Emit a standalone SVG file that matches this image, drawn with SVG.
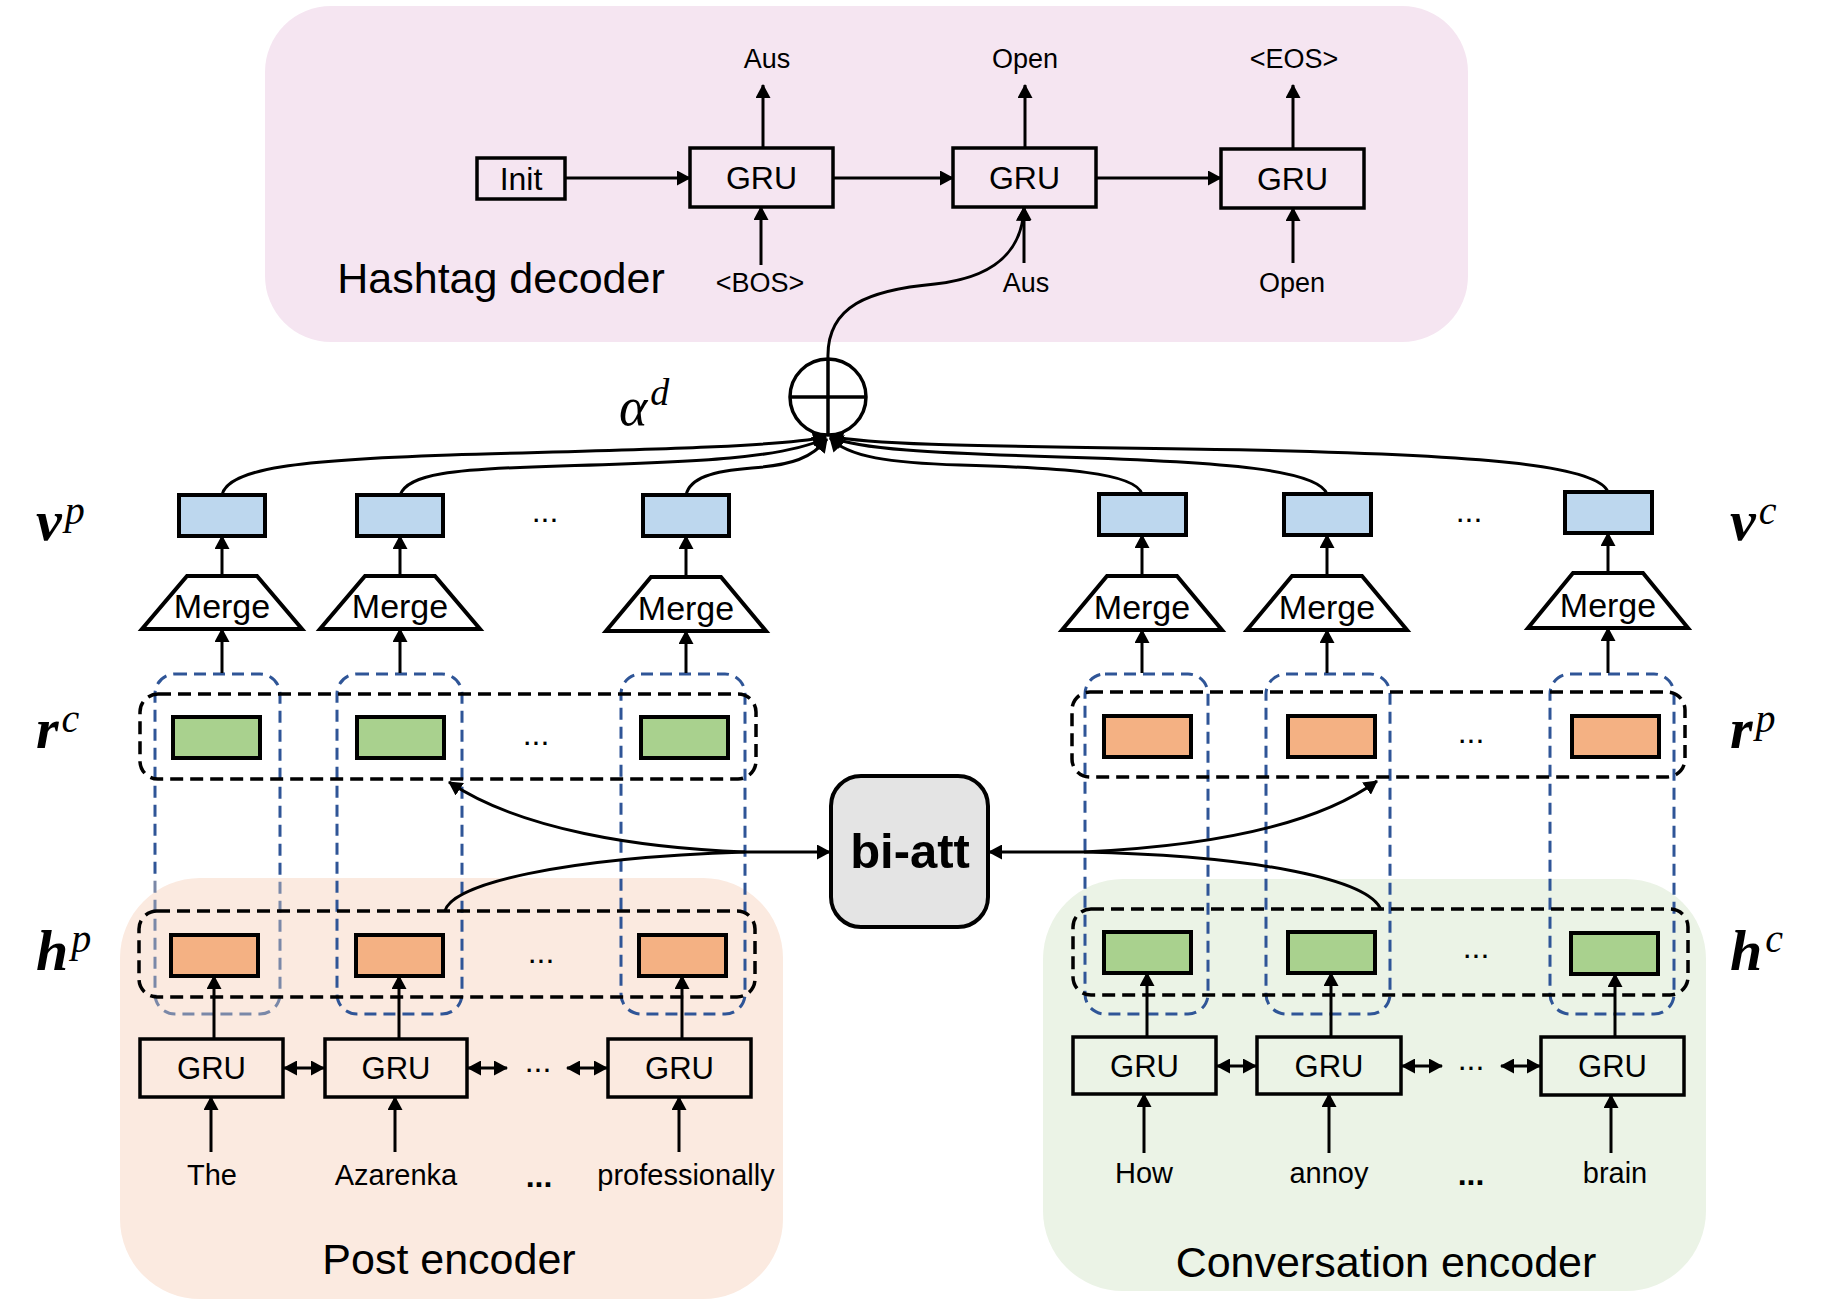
<svg xmlns="http://www.w3.org/2000/svg" width="1822" height="1314" viewBox="0 0 1822 1314">
<style>
.t{font-family:"Liberation Sans",Arial,sans-serif;fill:#000;text-anchor:middle}
.box{fill:none;stroke:#000;stroke-width:3.5}
.vb{fill:#BDD7EE;stroke:#000;stroke-width:4}
.gb{fill:#A9D18E;stroke:#000;stroke-width:4}
.ob{fill:#F4B183;stroke:#000;stroke-width:4}
.mg{fill:#fff;stroke:#000;stroke-width:4;stroke-linejoin:miter}
.blk{fill:none;stroke:#000;stroke-width:3.5;stroke-dasharray:13 7}
.blu{fill:none;stroke:#2F5597;stroke-width:3;stroke-dasharray:12 7}
.ln{fill:none;stroke:#000;stroke-width:3}
.ar{marker-end:url(#ah)}
.bi{marker-start:url(#ah);marker-end:url(#ah)}
.math{font-family:"Liberation Serif","DejaVu Serif",serif;font-style:italic;fill:#000}
.dt{font-family:"Liberation Sans",Arial,sans-serif;fill:#000;text-anchor:middle;font-size:32px}
</style>
<defs>
<marker id="ah" viewBox="0 0 14 15" refX="13" refY="7.5" markerWidth="14" markerHeight="15" markerUnits="userSpaceOnUse" orient="auto-start-reverse">
<path d="M0,0 L14,7.5 L0,15 z" fill="#000"/>
</marker>
<linearGradient id="col1g" gradientUnits="userSpaceOnUse" x1="0" y1="674" x2="0" y2="1014">
<stop offset="0" stop-color="#2F5597"/>
<stop offset="0.6" stop-color="#2F5597"/>
<stop offset="0.61" stop-color="#7A88A8"/>
<stop offset="1" stop-color="#7A88A8"/>
</linearGradient>
</defs>
<rect width="1822" height="1314" fill="#fff"/>

<!-- panels -->
<g id="panel-decoder">
<rect x="265" y="6" width="1203" height="336" rx="66" fill="#F5E5F1"/>
<text class="t" x="501" y="293" font-size="43">Hashtag decoder</text>
</g>
<g id="panel-post">
<rect x="120" y="878" width="663" height="421" rx="80" fill="#FBEAE0"/>
<text class="t" x="449" y="1274" font-size="43">Post encoder</text>
</g>
<g id="panel-conv">
<rect x="1043" y="879" width="663" height="412" rx="80" fill="#EBF3E6"/>
<text class="t" x="1386" y="1277" font-size="43">Conversation encoder</text>
</g>

<!-- decoder -->
<g id="dec-init"><rect class="box" x="477" y="158" width="88" height="41"/><text class="t" x="521" y="190" font-size="32">Init</text></g>
<g id="dec-gru1"><rect class="box" x="690" y="148" width="143" height="59"/><text class="t" x="761.5" y="189" font-size="32">GRU</text></g>
<g id="dec-gru2"><rect class="box" x="953" y="148" width="143" height="59"/><text class="t" x="1024.5" y="189" font-size="32">GRU</text></g>
<g id="dec-gru3"><rect class="box" x="1221" y="149" width="143" height="59"/><text class="t" x="1292.5" y="190" font-size="32">GRU</text></g>
<g id="dec-labels">
<text class="t" x="767" y="68" font-size="27">Aus</text>
<text class="t" x="1025" y="68" font-size="27">Open</text>
<text class="t" x="1294" y="68" font-size="27">&lt;EOS&gt;</text>
<text class="t" x="760" y="292" font-size="27">&lt;BOS&gt;</text>
<text class="t" x="1026" y="292" font-size="27">Aus</text>
<text class="t" x="1292" y="292" font-size="27">Open</text>
</g>

<!-- plus node -->
<g id="plus">
<circle cx="828" cy="397" r="38" fill="#fff" stroke="#000" stroke-width="3.5"/>
<line x1="790" y1="397" x2="866" y2="397" stroke="#000" stroke-width="3.5"/>
<line x1="828" y1="359" x2="828" y2="435" stroke="#000" stroke-width="3.5"/>
</g>
<g id="alpha-label"><text class="math" x="619" y="425" font-size="54">α<tspan font-size="38" dx="3" dy="-20">d</tspan></text></g>

<!-- side labels -->
<g id="side-labels">
<text class="math" x="36" y="540" font-size="58" font-weight="bold">v<tspan font-size="40" font-weight="normal" dx="3" dy="-16">p</tspan></text>
<text class="math" x="36" y="748" font-size="58" font-weight="bold">r<tspan font-size="40" font-weight="normal" dx="3" dy="-16">c</tspan></text>
<text class="math" x="36" y="970" font-size="58" font-weight="bold">h<tspan font-size="40" font-weight="normal" dx="3" dy="-18">p</tspan></text>
<text class="math" x="1730" y="540" font-size="58" font-weight="bold">v<tspan font-size="40" font-weight="normal" dx="3" dy="-16">c</tspan></text>
<text class="math" x="1730" y="748" font-size="58" font-weight="bold">r<tspan font-size="40" font-weight="normal" dx="3" dy="-16">p</tspan></text>
<text class="math" x="1730" y="970" font-size="58" font-weight="bold">h<tspan font-size="40" font-weight="normal" dx="3" dy="-18">c</tspan></text>
</g>

<!-- dashed groupings -->
<g id="groups">
<rect class="blu" x="155" y="674" width="125" height="340" rx="20" style="stroke:url(#col1g)"/>
<rect class="blu" x="337" y="674" width="125" height="340" rx="20"/>
<rect class="blu" x="621" y="674" width="124" height="340" rx="20"/>
<rect class="blu" x="1085" y="674" width="123" height="340" rx="20"/>
<rect class="blu" x="1266" y="674" width="124" height="340" rx="20"/>
<rect class="blu" x="1550" y="674" width="124" height="340" rx="20"/>
<rect class="blk" x="140" y="694" width="616" height="85" rx="18"/>
<rect class="blk" x="139" y="911" width="616" height="86" rx="18"/>
<rect class="blk" x="1072" y="692" width="613" height="85" rx="18"/>
<rect class="blk" x="1073" y="909" width="615" height="86" rx="18"/>
</g>

<!-- v boxes -->
<g id="vp1"><rect class="vb" x="179" y="495" width="86" height="41"/></g>
<g id="vp2"><rect class="vb" x="357" y="495" width="86" height="41"/></g>
<g id="vp3"><rect class="vb" x="643" y="495" width="86" height="41"/></g>
<g id="vc1"><rect class="vb" x="1099" y="494" width="87" height="41"/></g>
<g id="vc2"><rect class="vb" x="1284" y="494" width="87" height="41"/></g>
<g id="vc3"><rect class="vb" x="1565" y="492" width="87" height="41"/></g>

<!-- merge nodes -->
<g id="merge1"><polygon class="mg" points="187,576 257,576 302,629 142,629"/><text class="t" x="222" y="618" font-size="34">Merge</text></g>
<g id="merge2"><polygon class="mg" points="365,576 435,576 480,629 320,629"/><text class="t" x="400" y="618" font-size="34">Merge</text></g>
<g id="merge3"><polygon class="mg" points="651,577 721,577 766,631 606,631"/><text class="t" x="686" y="620" font-size="34">Merge</text></g>
<g id="merge4"><polygon class="mg" points="1107,576 1177,576 1222,630 1062,630"/><text class="t" x="1142" y="619" font-size="34">Merge</text></g>
<g id="merge5"><polygon class="mg" points="1292,576 1362,576 1407,630 1247,630"/><text class="t" x="1327" y="619" font-size="34">Merge</text></g>
<g id="merge6"><polygon class="mg" points="1573,573 1643,573 1688,628 1528,628"/><text class="t" x="1608" y="617" font-size="34">Merge</text></g>

<!-- r boxes -->
<g id="rc1"><rect class="gb" x="173" y="717" width="87" height="41"/></g>
<g id="rc2"><rect class="gb" x="357" y="717" width="87" height="41"/></g>
<g id="rc3"><rect class="gb" x="641" y="717" width="87" height="41"/></g>
<g id="rp1"><rect class="ob" x="1104" y="716" width="87" height="41"/></g>
<g id="rp2"><rect class="ob" x="1288" y="716" width="87" height="41"/></g>
<g id="rp3"><rect class="ob" x="1572" y="716" width="87" height="41"/></g>

<!-- h boxes -->
<g id="hp1"><rect class="ob" x="171" y="935" width="87" height="41"/></g>
<g id="hp2"><rect class="ob" x="356" y="935" width="87" height="41"/></g>
<g id="hp3"><rect class="ob" x="639" y="935" width="87" height="41"/></g>
<g id="hc1"><rect class="gb" x="1104" y="932" width="87" height="41"/></g>
<g id="hc2"><rect class="gb" x="1288" y="932" width="87" height="41"/></g>
<g id="hc3"><rect class="gb" x="1571" y="933" width="87" height="41"/></g>

<!-- encoder GRUs -->
<g id="pgru1"><rect class="box" x="140" y="1039" width="143" height="58"/><text class="t" x="211.5" y="1079" font-size="31">GRU</text></g>
<g id="pgru2"><rect class="box" x="325" y="1039" width="142" height="58"/><text class="t" x="396" y="1079" font-size="31">GRU</text></g>
<g id="pgru3"><rect class="box" x="608" y="1039" width="143" height="58"/><text class="t" x="679.5" y="1079" font-size="31">GRU</text></g>
<g id="cgru1"><rect class="box" x="1073" y="1037" width="143" height="57"/><text class="t" x="1144.5" y="1077" font-size="31">GRU</text></g>
<g id="cgru2"><rect class="box" x="1257" y="1037" width="144" height="57"/><text class="t" x="1329" y="1077" font-size="31">GRU</text></g>
<g id="cgru3"><rect class="box" x="1541" y="1037" width="143" height="58"/><text class="t" x="1612.5" y="1077" font-size="31">GRU</text></g>

<!-- words -->
<g id="words">
<text class="t" x="212" y="1185" font-size="29">The</text>
<text class="t" x="396" y="1185" font-size="29">Azarenka</text>
<text class="t" x="686" y="1185" font-size="29">professionally</text>
<text class="t" x="1144" y="1183" font-size="29">How</text>
<text class="t" x="1329" y="1183" font-size="29">annoy</text>
<text class="t" x="1615" y="1183" font-size="29">brain</text>
</g>

<!-- ellipses -->
<g id="dots">
<text class="dt" x="545" y="522">...</text>
<text class="dt" x="536" y="745">...</text>
<text class="dt" x="541" y="963">...</text>
<text class="dt" x="538" y="1072">...</text>
<text class="dt" x="539" y="1187" font-weight="bold">...</text>
<text class="dt" x="1469" y="522">...</text>
<text class="dt" x="1471" y="743">...</text>
<text class="dt" x="1476" y="958">...</text>
<text class="dt" x="1471" y="1070">...</text>
<text class="dt" x="1471" y="1185" font-weight="bold">...</text>
</g>

<!-- bi-att -->
<g id="biatt">
<rect x="831" y="776" width="157" height="151" rx="30" fill="#E4E4E4" stroke="#000" stroke-width="4"/>
<text class="t" x="910" y="868" font-size="49" font-weight="bold">bi-att</text>
</g>

<!-- connectors -->
<g id="connectors">
<!-- decoder -->
<line class="ln ar" x1="565" y1="178" x2="690" y2="178"/>
<line class="ln ar" x1="833" y1="178" x2="953" y2="178"/>
<line class="ln ar" x1="1096" y1="178" x2="1221" y2="178"/>
<line class="ln ar" x1="763" y1="148" x2="763" y2="85"/>
<line class="ln ar" x1="1025" y1="148" x2="1025" y2="85"/>
<line class="ln ar" x1="1293" y1="149" x2="1293" y2="85"/>
<line class="ln ar" x1="761" y1="265" x2="761" y2="207"/>
<line class="ln ar" x1="1024" y1="263" x2="1024" y2="207"/>
<line class="ln ar" x1="1293" y1="263" x2="1293" y2="208"/>
<path class="ln ar" d="M828,359 C826,305 870,290 935,284 C990,278 1022,255 1024,208"/>
<!-- v to plus -->
<path class="ln ar" d="M222,495 C228,468 300,460 450,455 C620,450 770,448 826,437"/>
<path class="ln ar" d="M400,495 C408,474 450,469 560,466 C700,462 785,458 826,438"/>
<path class="ln ar" d="M686,495 C690,478 712,471 752,468 C792,465 812,458 827,439"/>
<path class="ln ar" d="M1142,494 C1135,472 1060,468 960,465 C890,463 848,457 830,438"/>
<path class="ln ar" d="M1327,494 C1318,470 1230,462 1060,457 C930,453 858,449 830,437"/>
<path class="ln ar" d="M1608,492 C1598,465 1480,455 1250,450 C1000,446 875,446 830,436"/>
<!-- merge to v -->
<line class="ln ar" x1="222" y1="576" x2="222" y2="536"/>
<line class="ln ar" x1="400" y1="576" x2="400" y2="536"/>
<line class="ln ar" x1="686" y1="577" x2="686" y2="536"/>
<line class="ln ar" x1="1142" y1="576" x2="1142" y2="535"/>
<line class="ln ar" x1="1327" y1="576" x2="1327" y2="535"/>
<line class="ln ar" x1="1608" y1="573" x2="1608" y2="533"/>
<!-- columns to merge -->
<line class="ln ar" x1="222" y1="673" x2="222" y2="629"/>
<line class="ln ar" x1="400" y1="673" x2="400" y2="629"/>
<line class="ln ar" x1="686" y1="673" x2="686" y2="631"/>
<line class="ln ar" x1="1142" y1="673" x2="1142" y2="630"/>
<line class="ln ar" x1="1327" y1="673" x2="1327" y2="630"/>
<line class="ln ar" x1="1608" y1="673" x2="1608" y2="628"/>
<!-- GRU to h -->
<line class="ln ar" x1="214" y1="1039" x2="214" y2="976"/>
<line class="ln ar" x1="399" y1="1039" x2="399" y2="976"/>
<line class="ln ar" x1="682" y1="1039" x2="682" y2="976"/>
<line class="ln ar" x1="1147" y1="1037" x2="1147" y2="973"/>
<line class="ln ar" x1="1331" y1="1037" x2="1331" y2="973"/>
<line class="ln ar" x1="1615" y1="1037" x2="1615" y2="974"/>
<!-- words to GRU -->
<line class="ln ar" x1="211" y1="1152" x2="211" y2="1097"/>
<line class="ln ar" x1="395" y1="1152" x2="395" y2="1097"/>
<line class="ln ar" x1="679" y1="1152" x2="679" y2="1097"/>
<line class="ln ar" x1="1144" y1="1153" x2="1144" y2="1094"/>
<line class="ln ar" x1="1329" y1="1153" x2="1329" y2="1094"/>
<line class="ln ar" x1="1611" y1="1153" x2="1611" y2="1095"/>
<!-- bidirectional -->
<line class="ln bi" x1="284" y1="1068" x2="324" y2="1068"/>
<line class="ln bi" x1="468" y1="1068" x2="507" y2="1068"/>
<line class="ln bi" x1="567" y1="1068" x2="607" y2="1068"/>
<line class="ln bi" x1="1217" y1="1066" x2="1256" y2="1066"/>
<line class="ln bi" x1="1402" y1="1066" x2="1442" y2="1066"/>
<line class="ln bi" x1="1501" y1="1066" x2="1540" y2="1066"/>
<!-- bi-att -->
<path class="ln ar" d="M745,852 C640,848 520,830 449,782"/>
<path class="ln ar" d="M445,911 C452,884 560,858 745,852 L830,852"/>
<path class="ln ar" d="M1084,852 C1190,847 1310,830 1377,781"/>
<path class="ln ar" d="M1381,910 C1370,880 1260,856 1084,852 L989,852"/>
</g>
</svg>
